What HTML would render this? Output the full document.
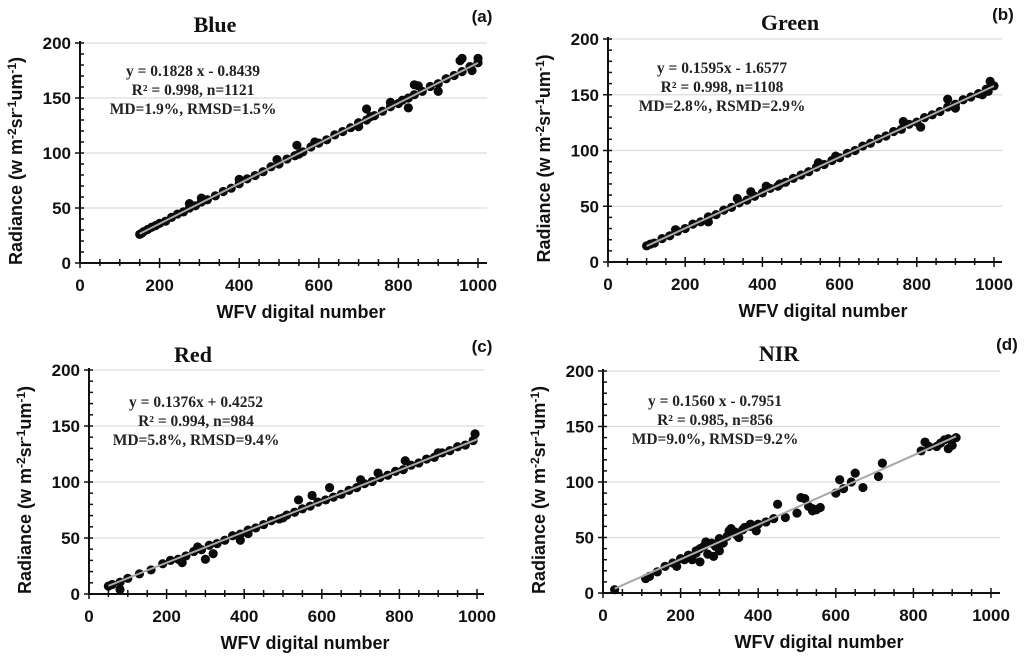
<!DOCTYPE html>
<html><head><meta charset="utf-8"><style>
body{margin:0;background:#fff}
svg{display:block}
.tk{font:bold 17px "Liberation Sans",sans-serif;fill:#111}
.ax{font:bold 18px "Liberation Sans",sans-serif;fill:#111}
.tt{font:bold 22px "Liberation Serif",serif;fill:#111}
.eq{font:bold 15.5px "Liberation Serif",serif;fill:#222}
.pl{font:bold 17px "Liberation Sans",sans-serif;fill:#111}
</style></head><body>
<svg id="c" width="1024" height="657" viewBox="0 0 1024 657" xmlns="http://www.w3.org/2000/svg"></svg>
<script>
const blueX=[150,155,160,170,180,190,200,215,230,245,260,275,290,305,320,340,360,380,400,420,440,460,480,500,520,540,550,560,580,600,620,640,660,680,700,720,730,740,760,780,800,810,825,840,860,880,900,920,940,960,980,1000,545,720,825,840,900,960,1000,400,275,305,495,590,700,780,850,955,985];
const blueY=[26,27,28.5,30.5,32.5,34,36,38,41.5,44.5,46.5,50,52,55.5,57.5,61,65,68,72,76.5,79.5,83,87.5,90,94.5,97.5,99,101,105.5,109,112,116.5,119.5,123,127.5,130,133,134,138,142,145,148,150,153,156,160.5,163,167.5,170.5,174,178.5,182,107,140,141,162,156,186,186,76,54,59,94,110,124,146,161,184,175];
const greenX=[100,110,120,140,160,180,200,220,240,260,280,300,320,340,360,380,400,420,440,460,480,500,520,540,560,580,600,620,640,660,680,700,720,740,760,780,800,820,840,860,880,900,920,940,960,980,1000,370,410,880,990,175,260,335,445,545,590,765,810,900,970,985];
const greenY=[14.5,16,17,21,23.5,27.5,30,34,36,40.5,42.5,46.5,49,53,55.5,59,62,66,68,71.5,75,78,81,85,87.5,91,93.5,97.5,100,104,106.5,110.5,113,117,119,123.5,125.5,129.5,132,135,139,141.5,145.5,148,151,155,158,63,68,146,162,29,36,57,70,89,95,126,121,138,150,153];
const redX=[50,60,80,100,130,160,190,210,230,250,270,290,310,330,350,370,390,410,430,450,470,490,510,530,550,570,590,610,630,650,670,690,710,730,750,770,790,810,830,850,870,890,910,930,950,970,990,540,80,300,390,620,995,240,280,320,410,500,575,700,745,815,900];
const redY=[7,8.5,10.5,14,18,21.5,27,30,31,34,38,39.5,43.5,45,48,52,53.5,57,59,62,65.5,67,70.5,73,76,78.5,82,84,86.5,89,92.5,95,98.5,100.5,104,106,109.5,111,115,117,120.5,122,126,128,131.5,133,137,84,4,31,48,95,143,28,42,36,54,68,88,102,108,119,126];
const nirX=[30,110,120,140,160,180,200,220,240,250,260,280,300,320,340,360,380,400,420,440,450,470,500,510,520,530,540,550,560,600,610,620,640,650,670,710,720,820,830,840,860,870,880,890,900,910,250,300,270,350,330,380,230,290,190,210,240,265,285,310,325,345,365,395,540,890];
const nirY=[3,13,15,19,24,27,31,34,38,40,42,45,49,51,55,57,60,62,64,67,80,68,72,86,85,78,76,75,77,90,102,94,100,108,95,105,117,128,136,132,132,135,138,139,133,140,28,38,35,50,58,62,30,42,24,30,36,46,33,45,56,52,59,56,74,130];
const yTicks=[0,50,100,150,200];
const xTicks=[0,200,400,600,800,1000];
const fits=[[0.1828,-0.8439],[0.1595,-1.6577],[0.1376,0.4252],[0.1560,-0.7951]];
const fitRange=[[150,1000],[100,1000],[50,1000],[30,910]];
const panels=[
 {name:"blue",title:"Blue",lab:"(a)",x0:80,x1:478,y0:263,y1:43,gx:487,tx:215,ty:32,lx:482,ly:22,eq:["y = 0.1828 x - 0.8439","R² = 0.998, n=1121","MD=1.9%, RMSD=1.5%"],ex:193,ey:76,X:blueX,Y:blueY},
 {name:"green",title:"Green",lab:"(b)",x0:608,x1:994,y0:262,y1:39,gx:1002,tx:790,ty:30,lx:1003,ly:20,eq:["y = 0.1595x - 1.6577","R² = 0.998, n=1108","MD=2.8%, RSMD=2.9%"],ex:722,ey:73,X:greenX,Y:greenY},
 {name:"red",title:"Red",lab:"(c)",x0:89,x1:477,y0:594,y1:370,gx:484,tx:193,ty:362,lx:482,ly:352,eq:["y = 0.1376x + 0.4252","R² = 0.994, n=984","MD=5.8%, RMSD=9.4%"],ex:196,ey:407,X:redX,Y:redY},
 {name:"nir",title:"NIR",lab:"(d)",x0:603,x1:991,y0:593,y1:371,gx:1000,tx:779,ty:361,lx:1007,ly:350,eq:["y = 0.1560 x - 0.7951","R² = 0.985, n=856","MD=9.0%, RMSD=9.2%"],ex:715,ey:406,X:nirX,Y:nirY}
];
const svg=document.getElementById('c');
const NS="http://www.w3.org/2000/svg";
function mk(t,a,p){const e=document.createElementNS(NS,t);for(const k in a)e.setAttribute(k,a[k]);(p||svg).appendChild(e);return e;}
panels.forEach((p,i)=>{
 const g=mk('g',{});
 
 
 const sx=v=>p.x0+(p.x1-p.x0)*v/1000;
 const sy=v=>p.y0+(p.y1-p.y0)*v/200;
 yTicks.forEach(v=>{
  if(v>0){const l=mk('line',{x1:p.x0,x2:p.gx,y1:sy(v),y2:sy(v),stroke:'#dcdcdc','stroke-width':1.2},g);
  
  }
  const t=mk('text',{x:p.x0-9,y:sy(v)+6,'text-anchor':'end',class:'tk'},g);t.textContent=v;
  
  
 });
 for(let v=0;v<=200;v+=10){mk('line',{x1:p.x0-(v%50?0:5),x2:p.x0+4,y1:sy(v),y2:sy(v),stroke:'#111','stroke-width':1.5},g);}
 for(let v=0;v<=1000;v+=50){mk('line',{x1:sx(v),x2:sx(v),y1:p.y0-(v%200?4:5),y2:p.y0+(v%200?3:5),stroke:'#111','stroke-width':1.5},g);}
 xTicks.forEach(v=>{const t=mk('text',{x:sx(v),y:p.y0+28,'text-anchor':'middle',class:'tk'},g);t.textContent=v;
  
  });
 const ya=mk('line',{x1:p.x0,x2:p.x0,y1:p.y1-2,y2:p.y0,stroke:'#111','stroke-width':2},g);
 
 
 const xa=mk('line',{x1:p.x0,x2:p.gx,y1:p.y0,y2:p.y0,stroke:'#111','stroke-width':2},g);
 
 
 p.X.forEach((x,j)=>{const c=mk('circle',{cx:sx(x),cy:sy(p.Y[j]),r:4.6,fill:'#0a0a0a'},g);
  
  });
 const [a,b]=fits[i],[r0,r1]=fitRange[i];
 const fl=mk('line',{x1:sx(r0),y1:sy(a*r0+b),x2:sx(r1),y2:sy(a*r1+b),stroke:'#a8a8a8','stroke-width':2},g);
 
 
 const tt=mk('text',{x:p.tx,y:p.ty,'text-anchor':'middle',class:'tt'},g);tt.textContent=p.title;
 
 
 const pl=mk('text',{x:p.lx,y:p.ly,'text-anchor':'middle',class:'pl'},g);pl.textContent=p.lab;
 
 
 p.eq.forEach((s,k)=>{const t=mk('text',{x:p.ex,y:p.ey+k*19,'text-anchor':'middle',class:'eq'},g);t.textContent=s;
  
  });
 const xl=mk('text',{x:(p.x0+p.x1)/2+22,y:p.y0+55,'text-anchor':'middle',class:'ax'},g);xl.textContent='WFV digital number';
 
 
 const cy=(p.y0+p.y1)/2+8, cx=p.x0-58;
 const yl=mk('text',{x:cx,y:cy,'text-anchor':'middle',class:'ax',transform:`rotate(-90 ${cx} ${cy})`},g);
 yl.innerHTML='Radiance (w m<tspan dy="-6" font-size="12">-2</tspan><tspan dy="6">sr</tspan><tspan dy="-6" font-size="12">-1</tspan><tspan dy="6">um</tspan><tspan dy="-6" font-size="12">-1</tspan><tspan dy="6">)</tspan>';
 
 
});
</script>
</body></html>
